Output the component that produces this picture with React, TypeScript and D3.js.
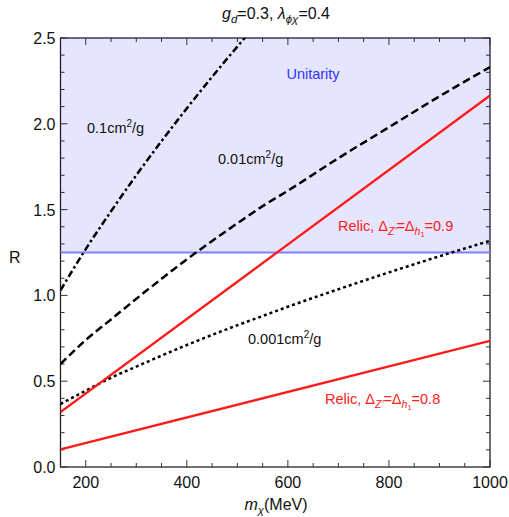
import React, { useEffect, useRef } from 'react';
import * as d3 from 'd3';

// mass grid (MeV) and curves
const massGrid = [150, 200, 250, 300, 400, 500, 550, 600, 700, 800, 900, 1000];
const sigma01 = [1.03, 1.27, 1.49, 1.7, 2.09, 2.45, 2.62, null, null, null, null, null];
const sigma001 = [0.6, 0.74, 0.86, 0.98, 1.21, 1.42, 1.52, 1.61, 1.8, 1.98, 2.16, 2.33];
const sigma0001 = [0.367, 0.445, 0.52, 0.585, 0.711, 0.826, 0.88, 0.934, 1.036, 1.134, 1.228, 1.318];
const relicMass = [150, 1000];
const relic09 = [0.32, 2.165];
const relic08 = [0.103, 0.735];
const unitarityR = 1.25;

const xMajor = [200, 400, 600, 800, 1000];
const yMajor = [0, 0.5, 1, 1.5, 2, 2.5];

const W = 509;
const H = 517;
const FONT = 'Liberation Sans, Arial, sans-serif';

const Chart = () => {
  const ref = useRef<SVGSVGElement>(null);

  useEffect(() => {
    const margin = { top: 38, right: 19, bottom: 50, left: 60.5 };
    const innerW = W - margin.left - margin.right;
    const innerH = H - margin.top - margin.bottom;

    const x = d3.scaleLinear().domain([150, 1000]).range([0, innerW]);
    const y = d3.scaleLinear().domain([0, 2.5]).range([innerH, 0]);

    const root = d3.select(ref.current);
    root.selectAll('*').remove();

    root
      .append('defs')
      .append('clipPath')
      .attr('id', 'plotclip')
      .append('rect')
      .attr('width', innerW)
      .attr('height', innerH);

    const g = root.append('g').attr('transform', `translate(${margin.left},${margin.top})`);

    // frame
    g.append('rect')
      .attr('width', innerW)
      .attr('height', innerH)
      .attr('fill', 'none')
      .attr('stroke', '#222')
      .attr('stroke-width', 1.3);

    // ticks
    const xMinor = d3.range(150, 1001, 50);
    const yMinor = d3.range(0, 2.51, 0.1);
    const tickG = g.append('g').attr('stroke', '#333').attr('stroke-width', 1);
    xMinor.forEach((v) => {
      const len = xMajor.includes(v) ? 7 : 4;
      tickG.append('line').attr('x1', x(v)).attr('x2', x(v)).attr('y1', innerH).attr('y2', innerH - len);
      tickG.append('line').attr('x1', x(v)).attr('x2', x(v)).attr('y1', 0).attr('y2', len);
    });
    yMinor.forEach((v) => {
      const major = yMajor.some((m) => Math.abs(m - v) < 1e-6);
      const len = major ? 7 : 4;
      tickG.append('line').attr('x1', 0).attr('x2', len).attr('y1', y(v)).attr('y2', y(v));
      tickG.append('line').attr('x1', innerW).attr('x2', innerW - len).attr('y1', y(v)).attr('y2', y(v));
    });

    xMajor.forEach((v) => {
      g.append('text')
        .attr('x', x(v))
        .attr('y', innerH + 21)
        .attr('text-anchor', 'middle')
        .attr('font-family', FONT)
        .attr('font-size', 16)
        .attr('fill', '#111')
        .text(v);
    });
    yMajor.forEach((v) => {
      g.append('text')
        .attr('x', -5)
        .attr('y', y(v) + 6)
        .attr('text-anchor', 'end')
        .attr('font-family', FONT)
        .attr('font-size', 16)
        .attr('fill', '#111')
        .text(v.toFixed(1));
    });

    // unitarity excluded region
    g.append('rect')
      .attr('x', 0)
      .attr('y', y(2.5))
      .attr('width', innerW)
      .attr('height', y(unitarityR) - y(2.5))
      .attr('fill', 'rgb(0,0,235)')
      .attr('fill-opacity', 0.1);
    g.append('line')
      .attr('x1', 0)
      .attr('x2', innerW)
      .attr('y1', y(unitarityR))
      .attr('y2', y(unitarityR))
      .attr('stroke', '#8080ff')
      .attr('stroke-width', 2);

    const plot = g.append('g').attr('clip-path', 'url(#plotclip)');
    const line = d3
      .line<[number, number | null]>()
      .defined((d) => d[1] != null)
      .x((d) => x(d[0]))
      .y((d) => y(d[1] as number))
      .curve(d3.curveMonotoneX);

    const curves = [
      { vals: sigma01, dash: '7,3,2.5,3' },
      { vals: sigma001, dash: '8,4' },
      { vals: sigma0001, dash: '3,3' },
    ];
    curves.forEach((c) => {
      plot
        .append('path')
        .datum(massGrid.map((m, i) => [m, c.vals[i]] as [number, number | null]))
        .attr('d', line)
        .attr('fill', 'none')
        .attr('stroke', '#000')
        .attr('stroke-width', 2.5)
        .attr('stroke-dasharray', c.dash);
    });

    [relic09, relic08].forEach((vals) => {
      plot
        .append('path')
        .datum(relicMass.map((m, i) => [m, vals[i]] as [number, number | null]))
        .attr('d', line)
        .attr('fill', 'none')
        .attr('stroke', '#ff1a1a')
        .attr('stroke-width', 2.3);
    });
  }, []);

  return <svg ref={ref} width={W} height={H} style={{ position: 'absolute', left: 0, top: 0 }} />;
};

const Labels = () => {
  const red = '#ff2020';
  return (
    <svg width={W} height={H} style={{ position: 'absolute', left: 0, top: 0, pointerEvents: 'none' }}>
      <g fontFamily={FONT}>
        {/* title */}
        <text x={276} y={19} textAnchor="middle" fontSize={16} fill="#111">
          <tspan fontStyle="italic">g</tspan>
          <tspan fontStyle="italic" fontSize={11.5} dy={4}>d</tspan>
          <tspan dy={-4}>=0.3, </tspan>
          <tspan fontStyle="italic">λ</tspan>
          <tspan fontStyle="italic" fontSize={11.5} dy={4}>ϕχ</tspan>
          <tspan dy={-4}>=0.4</tspan>
        </text>
        {/* axis titles */}
        <text x={9} y={263} fontSize={16} fill="#111">R</text>
        <text x={276} y={510} textAnchor="middle" fontSize={16} fill="#111">
          <tspan fontStyle="italic">m</tspan>
          <tspan fontStyle="italic" fontSize={11.5} dy={4}>χ</tspan>
          <tspan dy={-4}>(MeV)</tspan>
        </text>
        {/* curve labels */}
        <text x={313} y={79} textAnchor="middle" fontSize={14.5} fill="#3333ff">Unitarity</text>
        <text x={87} y={133} fontSize={14.5} fill="#111">
          0.1cm<tspan fontSize={10} dy={-6}>2</tspan>
          <tspan dy={6}>/g</tspan>
        </text>
        <text x={218} y={164} fontSize={14.5} fill="#111">
          0.01cm<tspan fontSize={10} dy={-6}>2</tspan>
          <tspan dy={6}>/g</tspan>
        </text>
        <text x={248} y={344} fontSize={14.5} fill="#111">
          0.001cm<tspan fontSize={10} dy={-6}>2</tspan>
          <tspan dy={6}>/g</tspan>
        </text>
        <text x={338} y={231} fontSize={14.5} fill={red}>
          Relic, Δ<tspan fontStyle="italic" fontSize={10.5} dy={4}>Z'</tspan>
          <tspan dy={-4}>=Δ</tspan>
          <tspan fontStyle="italic" fontSize={10.5} dy={4}>h</tspan>
          <tspan fontSize={7.5} dy={2}>1</tspan>
          <tspan dy={-6}>=0.9</tspan>
        </text>
        <text x={325} y={404} fontSize={14.5} fill={red}>
          Relic, Δ<tspan fontStyle="italic" fontSize={10.5} dy={4}>Z'</tspan>
          <tspan dy={-4}>=Δ</tspan>
          <tspan fontStyle="italic" fontSize={10.5} dy={4}>h</tspan>
          <tspan fontSize={7.5} dy={2}>1</tspan>
          <tspan dy={-6}>=0.8</tspan>
        </text>
      </g>
    </svg>
  );
};

export default function App() {
  return (
    <div style={{ position: 'fixed', left: 0, top: 0, width: W, height: H, background: '#fff' }}>
      <Chart />
      <Labels />
    </div>
  );
}
